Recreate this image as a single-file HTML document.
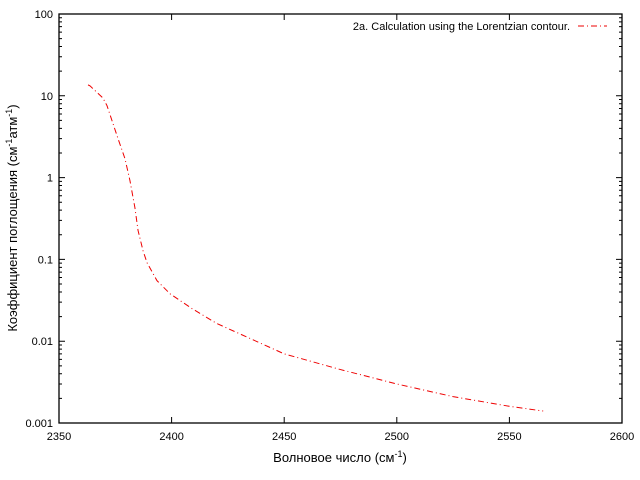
<!DOCTYPE html>
<html><head><meta charset="utf-8"><style>
body{margin:0;background:#fff}
svg{display:block;font-family:"Liberation Sans","DejaVu Sans",sans-serif}
</style></head><body>
<svg id="chart" width="640" height="480"></svg>
<script>
const xs=[2362.9,2363.8,2369.5,2371.3,2376.2,2379.3,2381.5,2383.7,2385.1,2387.3,2389.1,2393.5,2399.3,2409.1,2420,2450,2475,2500,2525,2550,2565];
const ys=[13.6,13.2,9.4,7.6,3.0,1.7,0.92,0.43,0.226,0.128,0.091,0.055,0.038,0.025,0.0165,0.007,0.0045,0.003,0.0021,0.0016,0.0014];
const xTicks=[2350,2400,2450,2500,2550,2600];
const yTicks=[0.001,0.01,0.1,1,10,100];
const yLabels=["0.001","0.01","0.1","1","10","100"];
const L=59,R=622,T=14,B=423;
const sx=v=>L+(v-2350)/250*(R-L);
const sy=v=>B-(Math.log10(v)+3)/5*(B-T);
const svg=document.getElementById('chart');
const NS='http://www.w3.org/2000/svg';
function mk(t,a,p){const e=document.createElementNS(NS,t);for(const k in a)e.setAttribute(k,a[k]);(p||svg).appendChild(e);return e;}
let e;
e=mk('rect',{x:L,y:T,width:R-L,height:B-T,fill:'none',stroke:'#000','stroke-width':1.3});


xTicks.forEach(v=>{
  const x=sx(v);
  e=mk('path',{d:`M${x},${B}v-6M${x},${T}v6`,stroke:'#000'});
  
  
  e=mk('text',{x:x,y:B+17,'font-size':11,'text-anchor':'middle'});e.textContent=v;
  
  
});
yTicks.forEach((v,i)=>{
  const y=sy(v);
  e=mk('path',{d:`M${L},${y}h6M${R},${y}h-6`,stroke:'#000'});
  
  
  e=mk('text',{x:L-6,y:y+4,'font-size':11,'text-anchor':'end'});e.textContent=yLabels[i];
  
  
  if(i<yTicks.length-1){for(let m=2;m<10;m++){const yy=sy(v*m);
    e=mk('path',{d:`M${L},${yy}h3M${R},${yy}h-3`,stroke:'#000'});
    
    }}
});
e=mk('polyline',{points:xs.map((x,i)=>sx(x)+','+sy(ys[i])).join(' '),fill:'none',stroke:'#e00','stroke-width':1,'stroke-dasharray':'6,3,1,3'});


e=mk('text',{x:570,y:30,'font-size':11,'text-anchor':'end'});e.textContent='2a. Calculation using the Lorentzian contour.';


e=mk('line',{x1:578,y1:26,x2:607,y2:26,stroke:'#e00','stroke-dasharray':'6,3,1,3'});


e=mk('text',{x:340,y:462,'font-size':13,'text-anchor':'middle'});
e.innerHTML='Волновое число (см<tspan dy="-5" font-size="9">-1</tspan><tspan dy="5">)</tspan>';


e=mk('text',{x:0,y:0,'font-size':13,'text-anchor':'middle',transform:'translate(17,218) rotate(-90)'});
e.innerHTML='Коэффициент поглощения (см<tspan dy="-5" font-size="9">-1</tspan><tspan dy="5">атм</tspan><tspan dy="-5" font-size="9">-1</tspan><tspan dy="5">)</tspan>';


</script>
</body></html>
